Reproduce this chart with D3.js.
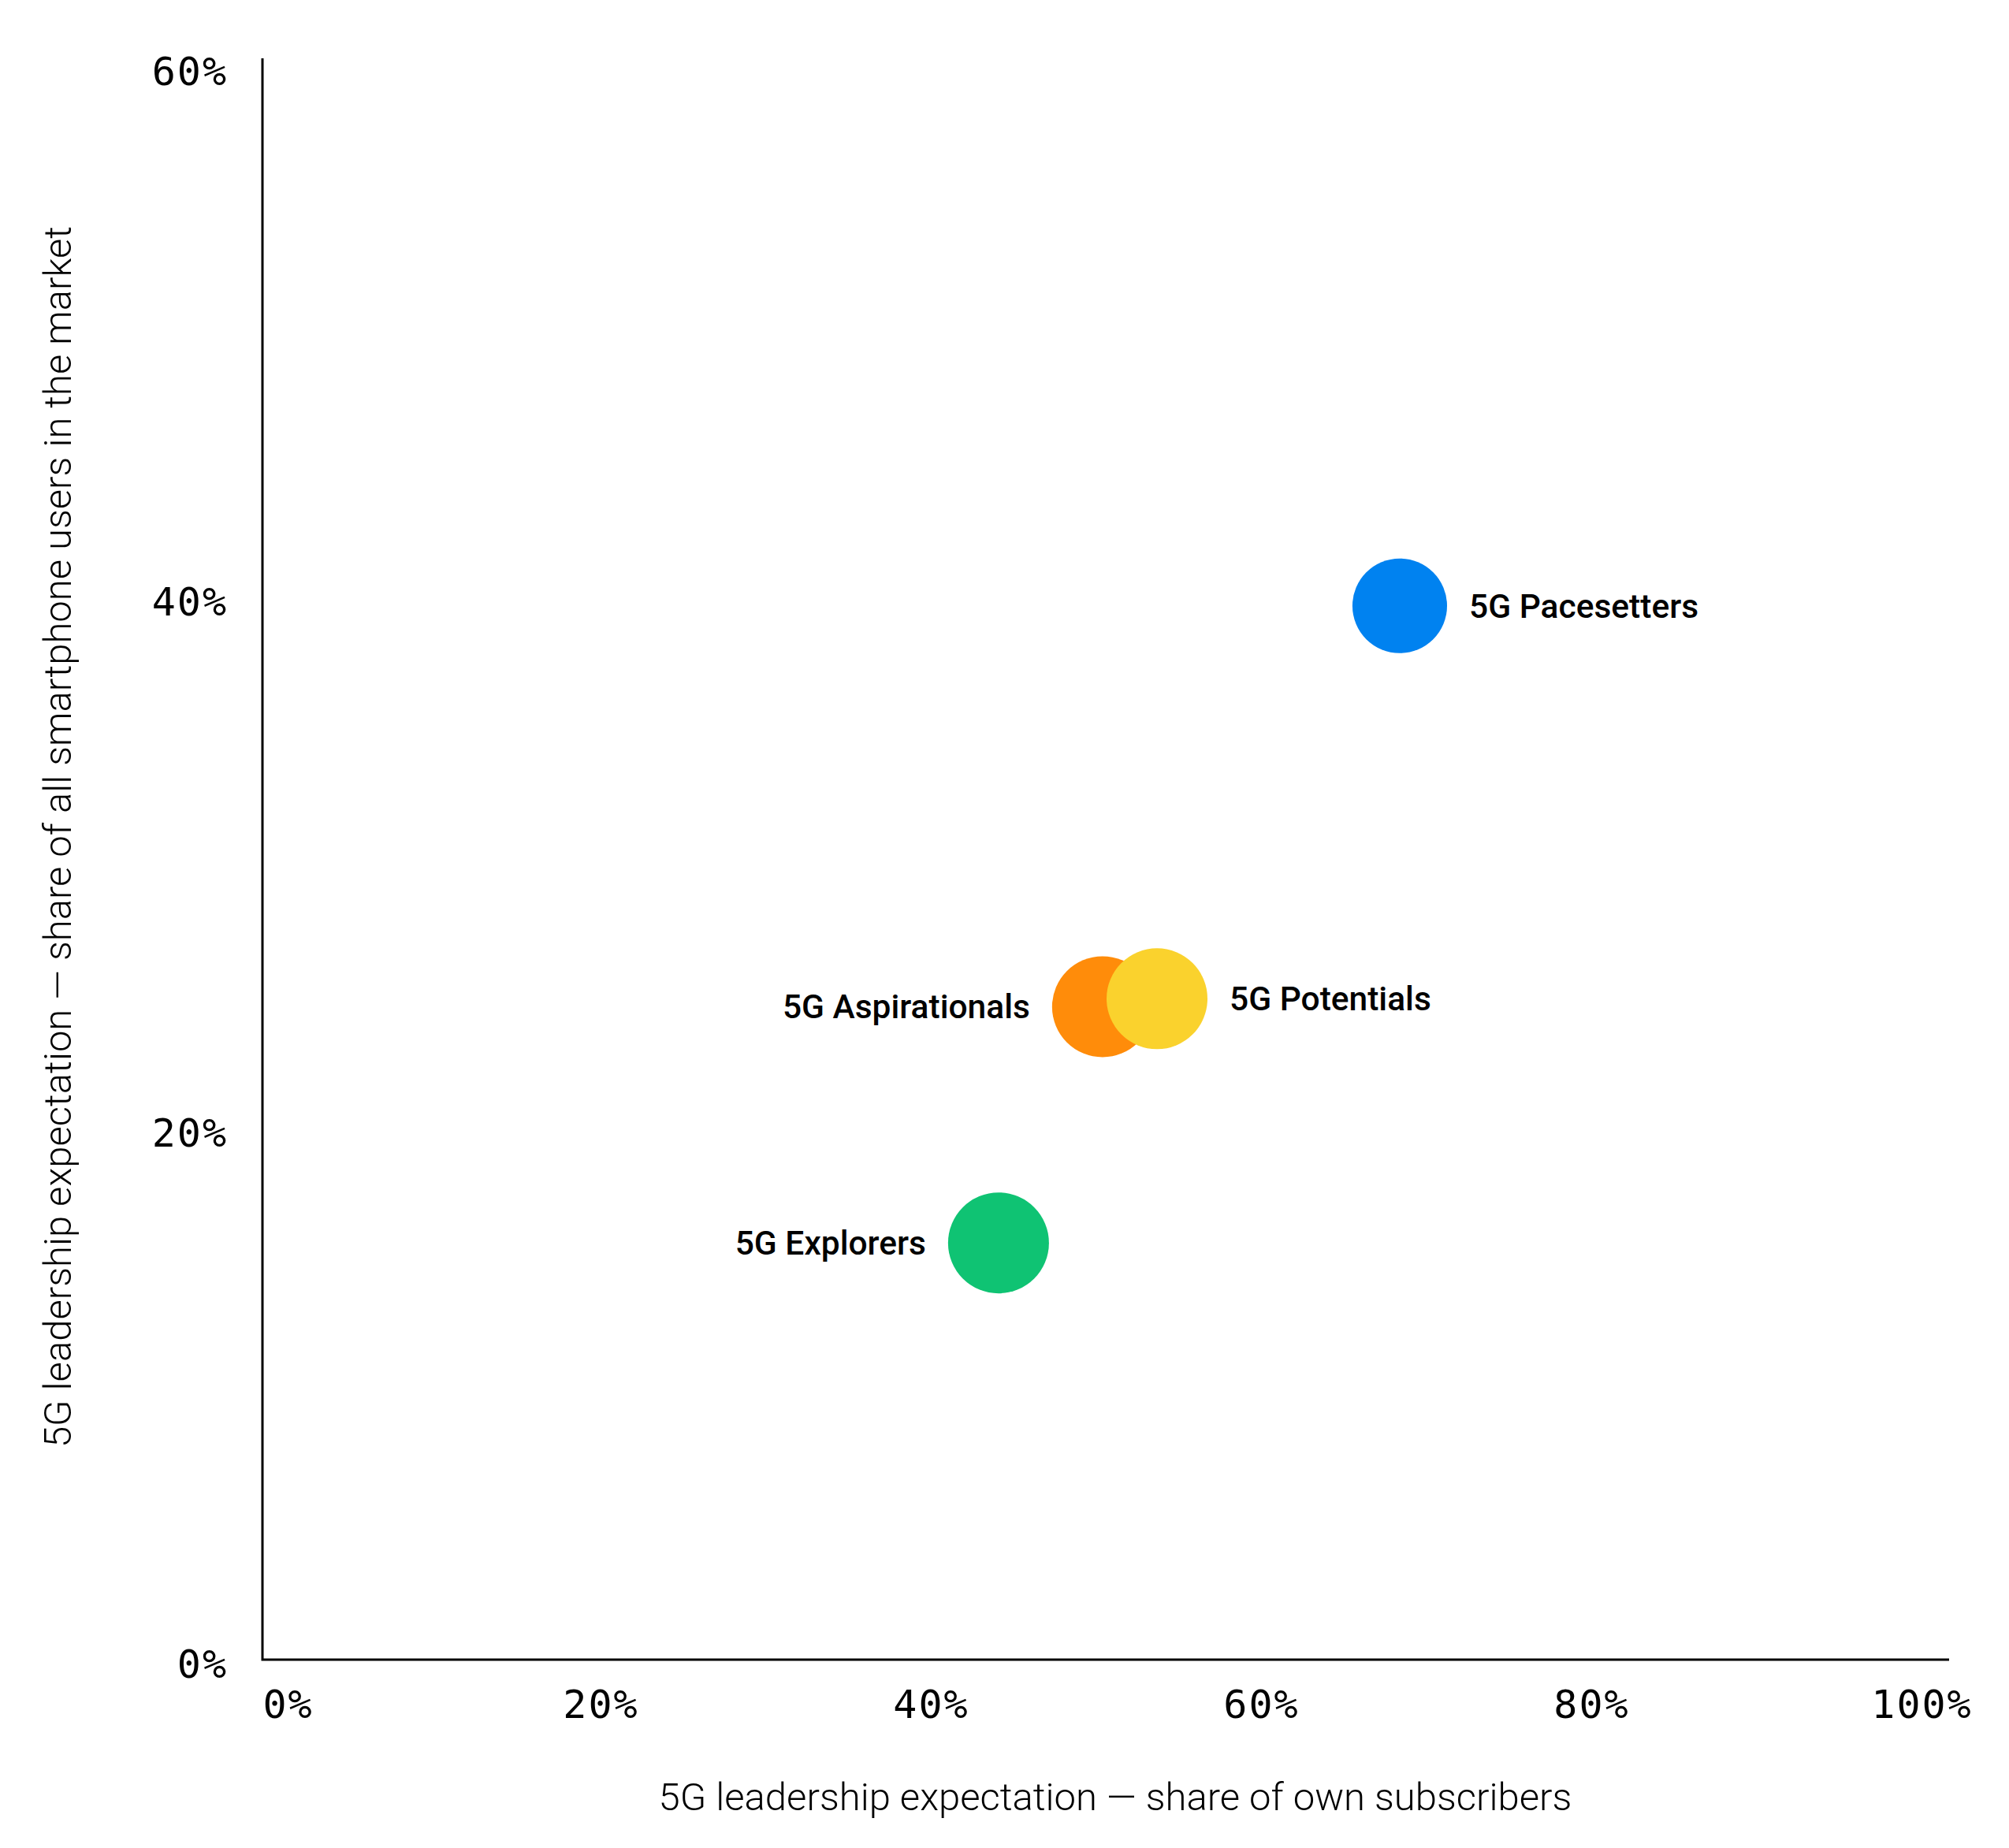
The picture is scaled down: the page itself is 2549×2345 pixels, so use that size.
<!DOCTYPE html>
<html>
<head>
<meta charset="utf-8">
<script src="https://cdn.jsdelivr.net/npm/d3@7"></script>
<style>
  body { margin: 0; background: #fff; }
  svg { display: block; }
</style>
</head>
<body>
<svg id="chart"></svg>
<script>
// operator segments, values
const segments = ['5G Pacesetters', '5G Aspirationals', '5G Potentials', '5G Explorers'];
// x: 5G leadership expectation, share of own subscribers (%)
const ownShare = [68.4, 50.4, 53.7, 44.1];
// y: 5G leadership expectation, share of all smartphone users in the market (%)
const marketShare = [39.7, 24.6, 24.9, 15.7];
// relative bubble size
const bubbleSize = [88, 100, 100, 100];
const segmentColors = ['#0082F0', '#FF8C0A', '#FAD22D', '#0FC373'];

const xTicks = [0, 20, 40, 60, 80, 100];
const xTickLabels = ['0%', '20%', '40%', '60%', '80%', '100%'];
const yTicks = [0, 20, 40, 60];
const yTickLabels = ['0%', '20%', '40%', '60%'];

const xTitle = '5G leadership expectation — share of own subscribers';
const yTitle = '5G leadership expectation — share of all smartphone users in the market';

class BubbleChart {
    constructor(_config, _data) {
        this.data = _data;
        this.config = {
            parentElement: _config.parentElement,
            width: _config.width || 2549,
            height: _config.height || 2345,
            // where the two axis lines sit
            axisLeft: 333,
            axisRight: 2473,
            axisBottom: 2106,
            axisTop: 74
        };
        this.initVis();
    }

    initVis() {
        const that = this;
        const c = that.config;

        that.svg = d3.select(c.parentElement)
            .attr('width', c.width)
            .attr('height', c.height);

        that.svg.append('rect')
            .attr('width', c.width)
            .attr('height', c.height)
            .attr('fill', '#fff');

        // tick labels run a bit inside the x axis line
        that.xScale = d3.scaleLinear().domain([0, 100]).range([343, 2438]);
        that.yScale = d3.scaleLinear().domain([0, 60]).range([c.axisBottom, 85]);
        that.rScale = d3.scaleSqrt().domain([0, d3.max(that.data, d => d.size)]).range([0, 64]);

        that.renderVis();
    }

    renderVis() {
        const that = this;
        const c = that.config;
        const tickFont = '"DejaVu Sans Mono", monospace';
        const textFont = 'Roboto, "Noto Sans", sans-serif';

        // x axis
        const xAxis = d3.axisBottom(that.xScale)
            .tickValues(xTicks)
            .tickFormat((d, i) => xTickLabels[i])
            .tickSize(0)
            .tickPadding(38);

        const xg = that.svg.append('g')
            .attr('transform', `translate(0,${c.axisBottom})`)
            .call(xAxis);
        xg.select('.domain').remove();
        xg.selectAll('text')
            .attr('fill', '#000')
            .style('font-family', tickFont)
            .style('font-size', '50px')
            .style('letter-spacing', '2px');
        // first label starts at the axis corner
        xg.selectAll('.tick').filter(d => d === 0).select('text')
            .attr('text-anchor', 'start')
            .attr('x', c.axisLeft - that.xScale(0));

        // y axis
        const yAxis = d3.axisLeft(that.yScale)
            .tickValues(yTicks)
            .tickFormat((d, i) => yTickLabels[i])
            .tickSize(0)
            .tickPadding(44);

        const yg = that.svg.append('g')
            .attr('transform', `translate(${c.axisLeft},0)`)
            .call(yAxis);
        yg.select('.domain').remove();
        yg.selectAll('text')
            .attr('fill', '#000')
            .attr('dy', '0.44em')
            .style('font-family', tickFont)
            .style('font-size', '50px')
            .style('letter-spacing', '2px');

        // axis lines
        that.svg.append('path')
            .attr('d', `M${c.axisLeft},${c.axisTop}V${c.axisBottom}H${c.axisRight}`)
            .attr('fill', 'none')
            .attr('stroke', '#000')
            .attr('stroke-width', 3);

        // axis titles
        that.svg.append('text')
            .attr('x', (c.axisLeft + c.axisRight) / 2 + 12)
            .attr('y', 2297)
            .attr('text-anchor', 'middle')
            .style('font-family', textFont)
            .style('font-weight', 300)
            .style('font-size', '49px')
            .attr('fill', '#000')
            .text(xTitle);

        that.svg.append('text')
            .attr('transform', `translate(90,1062) rotate(-90)`)
            .attr('text-anchor', 'middle')
            .style('font-family', textFont)
            .style('font-weight', 300)
            .style('font-size', '49px')
            .attr('fill', '#000')
            .text(yTitle);

        // bubbles
        that.svg.append('g')
            .selectAll('circle')
            .data(that.data)
            .join('circle')
            .attr('cx', d => that.xScale(d.x))
            .attr('cy', d => that.yScale(d.y))
            .attr('r', d => that.rScale(d.size))
            .attr('fill', d => d.color);

        // labels beside the bubbles
        const leftSide = new Set(['5G Aspirationals', '5G Explorers']);
        const gap = 28;
        that.svg.append('g')
            .selectAll('text')
            .data(that.data)
            .join('text')
            .attr('x', d => {
                const r = that.rScale(d.size);
                return leftSide.has(d.name) ? that.xScale(d.x) - r - gap : that.xScale(d.x) + r + gap;
            })
            .attr('y', d => that.yScale(d.y))
            .attr('dy', '0.35em')
            .attr('text-anchor', d => leftSide.has(d.name) ? 'end' : 'start')
            .style('font-family', textFont)
            .style('font-weight', 500)
            .style('font-size', '42.5px')
            .attr('fill', '#000')
            .text(d => d.name);
    }
}

const data = segments.map((name, i) => ({
    name: name,
    x: ownShare[i],
    y: marketShare[i],
    size: bubbleSize[i],
    color: segmentColors[i]
}));

new BubbleChart({ parentElement: '#chart' }, data);
</script>
</body>
</html>
